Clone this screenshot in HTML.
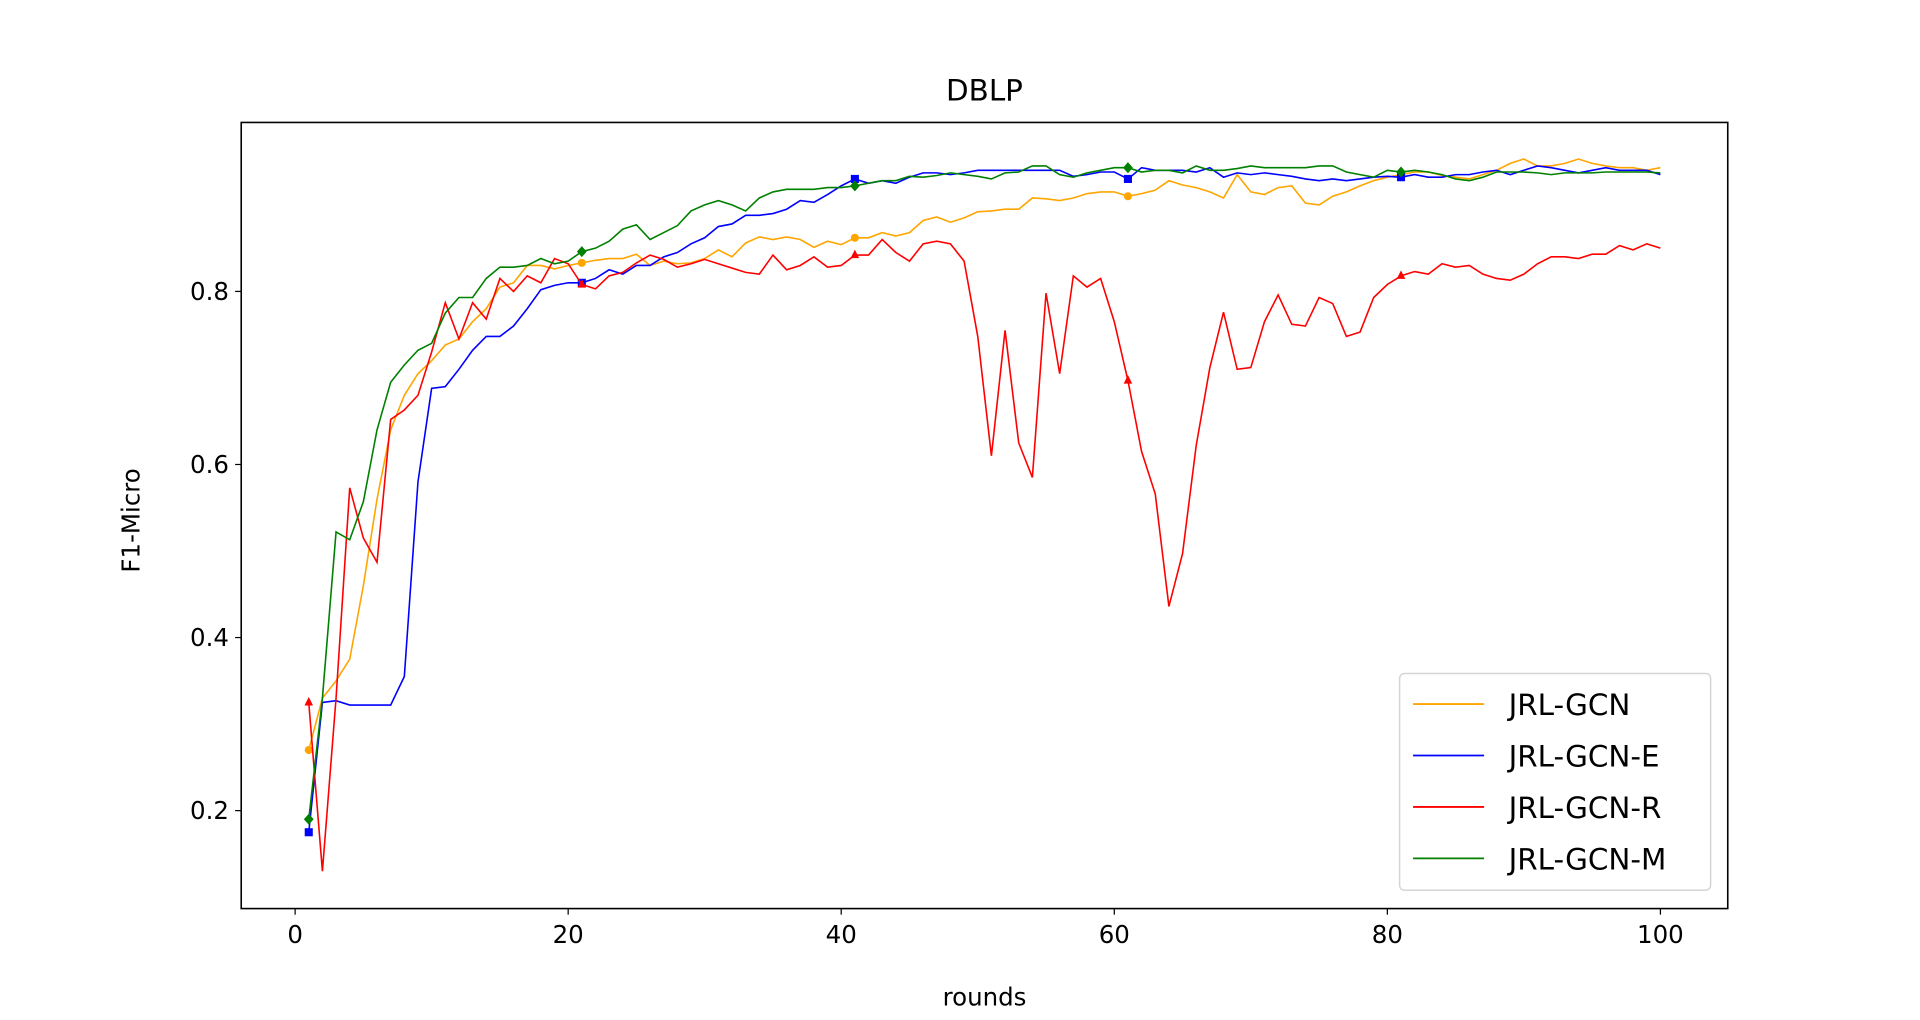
<!DOCTYPE html>
<html><head><meta charset="utf-8"><style>
html,body{margin:0;padding:0;background:#fff;}
svg{display:block;font-family:"DejaVu Sans","Liberation Sans",sans-serif;}
</style></head><body>
<svg id="chart" width="1920" height="1020" viewBox="0 0 1568 833" xmlns="http://www.w3.org/2000/svg">
<rect x="0" y="0" width="1568" height="833" fill="#fff"/>
<text x="804" y="82" font-size="24" text-anchor="middle">DBLP</text>
<g id="plot"></g>
<rect x="197" y="100" width="1214" height="642" fill="none" stroke="#000" stroke-width="1.3"/>
<text x="804" y="821" font-size="20" text-anchor="middle">rounds</text>
<text x="0" y="0" font-size="20" text-anchor="middle" transform="translate(114,425) rotate(-90)">F1-Micro</text>
<g id="legend">
<rect x="1143" y="550" width="254" height="177" rx="4" fill="#fff" stroke="#d5d5d5" stroke-width="1.2"/>
</g>
</svg>
<script>
const NS='http://www.w3.org/2000/svg';
const seriesNames=['JRL-GCN','JRL-GCN-E','JRL-GCN-R','JRL-GCN-M'];
const seriesColors=['orange','blue','red','green'];
const xTicks=[0,20,40,60,80,100];
const yTicks=[0.2,0.4,0.6,0.8];
const orangeVals=[0.27,0.33,0.35,0.375,0.46,0.56,0.64,0.68,0.705,0.72,0.738,0.745,0.765,0.78,0.805,0.81,0.83,0.83,0.826,0.83,0.833,0.836,0.838,0.838,0.843,0.83,0.835,0.832,0.833,0.838,0.848,0.84,0.856,0.863,0.86,0.863,0.86,0.851,0.858,0.854,0.862,0.862,0.868,0.864,0.868,0.882,0.886,0.88,0.885,0.892,0.893,0.895,0.895,0.908,0.907,0.905,0.908,0.913,0.915,0.915,0.91,0.913,0.917,0.928,0.923,0.92,0.915,0.908,0.935,0.915,0.912,0.92,0.922,0.902,0.9,0.91,0.915,0.922,0.928,0.932,0.935,0.938,0.938,0.934,0.932,0.93,0.935,0.94,0.948,0.953,0.945,0.945,0.948,0.953,0.948,0.945,0.943,0.943,0.94,0.943];
const blueVals=[0.175,0.325,0.327,0.322,0.322,0.322,0.322,0.355,0.58,0.688,0.69,0.71,0.732,0.748,0.748,0.76,0.78,0.802,0.807,0.81,0.81,0.815,0.825,0.82,0.83,0.83,0.84,0.845,0.855,0.862,0.875,0.878,0.888,0.888,0.89,0.895,0.905,0.903,0.912,0.922,0.93,0.925,0.928,0.925,0.932,0.937,0.937,0.935,0.937,0.94,0.94,0.94,0.94,0.94,0.94,0.94,0.933,0.935,0.938,0.938,0.93,0.943,0.94,0.94,0.94,0.938,0.943,0.932,0.937,0.935,0.937,0.935,0.933,0.93,0.928,0.93,0.928,0.93,0.932,0.933,0.932,0.935,0.932,0.932,0.935,0.935,0.938,0.94,0.935,0.94,0.945,0.943,0.94,0.937,0.94,0.943,0.94,0.94,0.94,0.935];
const redVals=[0.325,0.13,0.33,0.573,0.515,0.487,0.652,0.663,0.68,0.73,0.787,0.745,0.787,0.768,0.815,0.8,0.818,0.81,0.838,0.832,0.808,0.803,0.818,0.822,0.833,0.842,0.837,0.828,0.832,0.837,0.832,0.827,0.822,0.82,0.842,0.825,0.83,0.84,0.828,0.83,0.842,0.842,0.86,0.845,0.835,0.855,0.858,0.855,0.835,0.748,0.61,0.755,0.625,0.585,0.798,0.705,0.818,0.805,0.815,0.765,0.697,0.615,0.566,0.436,0.497,0.622,0.712,0.776,0.71,0.712,0.765,0.796,0.762,0.76,0.793,0.786,0.748,0.753,0.793,0.808,0.818,0.823,0.82,0.832,0.828,0.83,0.82,0.815,0.813,0.82,0.832,0.84,0.84,0.838,0.843,0.843,0.853,0.848,0.855,0.85];
const greenVals=[0.19,0.33,0.522,0.513,0.557,0.64,0.695,0.715,0.732,0.74,0.775,0.793,0.793,0.815,0.828,0.828,0.83,0.838,0.832,0.835,0.846,0.85,0.858,0.872,0.877,0.86,0.868,0.876,0.893,0.9,0.905,0.9,0.893,0.908,0.915,0.918,0.918,0.918,0.92,0.92,0.922,0.925,0.928,0.928,0.933,0.932,0.934,0.937,0.935,0.933,0.93,0.937,0.938,0.945,0.945,0.935,0.932,0.937,0.94,0.943,0.943,0.938,0.94,0.94,0.937,0.945,0.94,0.94,0.942,0.945,0.943,0.943,0.943,0.943,0.945,0.945,0.938,0.935,0.932,0.94,0.938,0.94,0.938,0.935,0.93,0.928,0.932,0.938,0.938,0.938,0.937,0.935,0.937,0.937,0.937,0.938,0.938,0.938,0.938,0.937];
const allVals=[orangeVals,blueVals,redVals,greenVals];
const markerKinds=['circle','square','triangle','diamond'];

function xs(v){return 241+(v-0)*(1356-241)/100;}
function ys(v){return 238+(0.8-v)*(662-238)/0.6;}

const plot=document.getElementById('plot');
const svg=document.getElementById('chart');
function mk(tag,attrs,parent){const e=document.createElementNS(NS,tag);for(const k in attrs)e.setAttribute(k,attrs[k]);(parent||plot).appendChild(e);return e;}

xTicks.forEach(t=>{
  const l=mk('line',{x1:xs(t),x2:xs(t),y1:742,y2:747,stroke:'#000','stroke-width':1},svg);
  
  
  const tx=mk('text',{x:xs(t),y:770,'font-size':20,'text-anchor':'middle'},svg);
  tx.textContent=t;
  
  
});
yTicks.forEach(t=>{
  const l=mk('line',{x1:192,x2:197,y1:ys(t),y2:ys(t),stroke:'#000','stroke-width':1},svg);
  
  
  const tx=mk('text',{x:187,y:ys(t)+7,'font-size':20,'text-anchor':'end'},svg);
  tx.textContent=t.toFixed(1);
  
  
});

allVals.forEach((vals,si)=>{
  const col=seriesColors[si];
  const pts=vals.map((v,i)=>xs(i+1).toFixed(2)+','+ys(v).toFixed(2)).join(' ');
  const pl=mk('polyline',{points:pts,fill:'none',stroke:col,'stroke-width':1.3,'stroke-linejoin':'miter'});
  
  
  for(let i=0;i<vals.length;i+=20){
    const cx=xs(i+1),cy=ys(vals[i]);let m;
    const k=markerKinds[si];
    if(k==='circle')m=mk('circle',{cx:cx,cy:cy,r:3.3,fill:col});
    else if(k==='square')m=mk('rect',{x:cx-3.3,y:cy-3.3,width:6.6,height:6.6,fill:col});
    else if(k==='triangle')m=mk('polygon',{points:`${cx},${cy-4.5} ${cx-3.5},${cy+2.5} ${cx+3.5},${cy+2.5}`,fill:col});
    else m=mk('polygon',{points:`${cx},${cy-4.5} ${cx+4},${cy} ${cx},${cy+4.5} ${cx-4},${cy}`,fill:col});
    
    
  }
});

const lg=document.getElementById('legend');
seriesNames.forEach((n,i)=>{
  const y=575+i*42;
  const l=mk('line',{x1:1154,x2:1212,y1:y,y2:y,stroke:seriesColors[i],'stroke-width':1.5},lg);
  
  
  const t=mk('text',{x:1232,y:y+9,'font-size':24},lg);
  t.textContent=n;
  
  
});
</script>
</body></html>
